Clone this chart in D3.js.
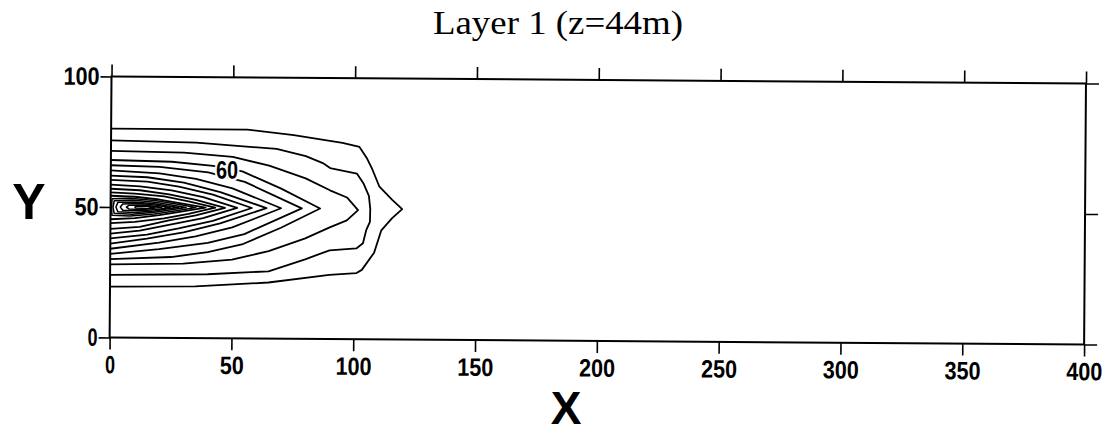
<!DOCTYPE html>
<html>
<head>
<meta charset="utf-8">
<script src="https://cdn.jsdelivr.net/npm/d3@7"></script>
<style>
  body { margin: 0; background: #fff; }
  svg { display: block; }
  .tick text {
    font-family: "Liberation Sans", Arial, sans-serif;
    font-weight: bold;
    font-size: 25px;
    fill: #000;
  }
  .tick line { stroke: #000; stroke-width: 1.6; }
</style>
</head>
<body>
<svg id="chart" width="1115" height="435"></svg>
<script>
// Axis ticks
const xTicks = [0, 50, 100, 150, 200, 250, 300, 350, 400];
const yTicks = [0, 50, 100];
const xDomain = [0, 400];
const yDomain = [0, 100];

// Concentration isolines that start at the source boundary (x = 0), as [x, y] points
const openContours = [
  [[0,80],[56,80],[75,78],[95,75.2],[102,73.7],[105,69.5],[107.4,65],[110.3,58.5],[115.6,53.5],[119.7,50],
   [115.6,46.5],[111.2,41.8],[108.3,33.2],[103.3,26.6],[101,25.3],[90,24.6],[65,21.5],[35,19.8],[0,19.5]],
  [[0,75.5],[35,74.9],[68,72.7],[80,70],[87,67.4],[90,65.5],[101,63.5],[103.7,59.8],[106,55],[106.6,50],
   [106.5,45],[105,41.8],[103.7,36.8],[101,34.8],[90,34],[80,30.5],[65,25.8],[40,24.5],[0,24]],
  [[0,71.5],[30,71],[50,69.5],[65,66.3],[80,61.5],[90,57],[97,54.3],[101.6,49.5],
   [97,45.5],[90,42.8],[80,38.5],[65,33.5],[50,30.2],[30,28.5],[0,28]],
  [[0,68],[25,67.5],[42,66],[54,64],[70,57.5],[86,50],[70,42.5],[54,36],[40,33],[25,31],[0,30]],
  [[0,66],[20,65.5],[40,63.5],[55,60],[78.5,50],[55,40],[40,36.5],[20,34],[0,32]],
  [[0,64],[20,63],[35,61],[50,57.5],[70,50],[50,42.5],[35,39],[20,36.5],[0,34]],
  [[0,62],[15,61.5],[30,59.5],[45,56],[64,50],[45,44],[30,40.5],[15,38],[0,36]],
  [[0,60.4],[15,59.8],[28,58],[42,55],[58,50],[42,45],[28,42],[15,39.5],[0,38]],
  [[0,58.6],[12,58],[25,56.5],[38,54],[52,50],[38,46],[25,43.5],[12,41],[0,39.8]],
  [[0,57],[12,56.5],[24,55],[35,53],[47,50],[35,47],[24,45],[12,42.5],[0,41.6]],
  [[0,55.6],[10,55.2],[22,54.2],[32,52.4],[43,50],[32,47.6],[22,45.8],[10,44.4],[0,43.8]],
  [[0,54.3],[10,54],[20,53],[29,51.6],[39,50],[29,48.4],[20,47],[10,45.8],[0,45.3]]
];

// Closed isolines around the concentration peak near the source
const closedContours = [
  [[0.6,53.2],[8,53.4],[18,52.6],[27,51.3],[35,50],[27,48.7],[18,47.4],[8,46.6],[0.6,46.8],[0.4,50]],
  [[1.5,52.4],[9,52.7],[18,51.9],[25,50.9],[31,50],[25,49.1],[18,48.1],[9,47.3],[1.5,47.6],[1,50]],
  [[3,51.8],[10,52],[18,51.4],[23,50.6],[28,50],[23,49.4],[18,48.6],[10,48],[3,48.2],[2.2,50]],
  [[5,51.2],[12,51.4],[19,50.8],[24.5,50],[19,49.2],[12,48.6],[5,48.8],[4,50]],
  [[7.5,50.7],[13.5,50.9],[21,50],[13.5,49.1],[7.5,49.3],[6.5,50]],
  [[10.5,50.35],[15,50.45],[18,50],[15,49.55],[10.5,49.65],[10,50]]
];

// Isoline label
const contourLabels = [{ text: "60", x: 47.7, y: 64.7 }];

const svg = d3.select("#chart");
const W = 1115, H = 435;
const plotLeft = 111.5, plotTop = 76.5, plotW = 974.5, plotH = 261;

svg.append("rect").attr("width", W).attr("height", H).attr("fill", "#fff");

// Title
svg.append("text")
  .attr("x", 433).attr("y", 34)
  .attr("textLength", 250).attr("lengthAdjust", "spacingAndGlyphs")
  .attr("font-family", "'Liberation Serif', 'Times New Roman', serif")
  .attr("font-size", 33)
  .attr("fill", "#000")
  .text("Layer 1 (z=44m)");

// Axis titles
svg.append("text")
  .attr("x", 29).attr("y", 219).attr("text-anchor", "middle")
  .attr("font-family", "'Liberation Sans', Arial, sans-serif")
  .attr("font-weight", "bold").attr("font-size", 50)
  .text("Y");
svg.append("text")
  .attr("x", 566).attr("y", 424).attr("text-anchor", "middle")
  .attr("font-family", "'Liberation Sans', Arial, sans-serif")
  .attr("font-weight", "bold").attr("font-size", 46)
  .text("X");

// Plot group (the page is slightly rotated)
const g = svg.append("g")
  .attr("transform", `rotate(0.41, ${plotLeft}, ${plotTop}) translate(${plotLeft},${plotTop})`);

const x = d3.scaleLinear().domain(xDomain).range([0, plotW]);
const y = d3.scaleLinear().domain(yDomain).range([plotH, 0]);

const line = d3.line().x(d => x(d[0])).y(d => y(d[1]));
const closedLine = d3.line().x(d => x(d[0])).y(d => y(d[1])).curve(d3.curveLinearClosed);

const cg = g.append("g").attr("fill", "none").attr("stroke", "#000")
  .attr("stroke-width", 1.8).attr("stroke-linejoin", "round");
cg.selectAll("path.open").data(openContours).join("path").attr("class", "open").attr("d", line);
cg.selectAll("path.closed").data(closedContours).join("path").attr("class", "closed")
  .attr("stroke-width", 1.5).attr("d", closedLine);

// Labels with a white halo to break the isoline
g.selectAll("text.clabel").data(contourLabels).join("text")
  .attr("class", "clabel")
  .attr("x", d => x(d.x)).attr("y", d => y(d.y))
  .attr("dy", "0.36em").attr("text-anchor", "middle")
  .attr("font-family", "'Liberation Sans', Arial, sans-serif")
  .attr("font-weight", "bold").attr("font-size", 25)
  .attr("textLength", 22).attr("lengthAdjust", "spacingAndGlyphs")
  .attr("stroke", "#fff").attr("stroke-width", 5).attr("paint-order", "stroke")
  .attr("fill", "#000")
  .text(d => d.text);

// Axes
const noLabel = () => "";
const bottomAxis = g.append("g").attr("transform", `translate(0,${plotH})`)
  .call(d3.axisBottom(x).tickValues(xTicks).tickSize(12).tickSizeOuter(0).tickPadding(6));
const topAxis = g.append("g")
  .call(d3.axisTop(x).tickValues(xTicks).tickSize(12).tickSizeOuter(0).tickFormat(noLabel));
const leftAxis = g.append("g")
  .call(d3.axisLeft(y).tickValues(yTicks).tickSize(11).tickSizeOuter(0).tickPadding(1));
const rightAxis = g.append("g").attr("transform", `translate(${plotW},0)`)
  .call(d3.axisRight(y).tickValues(yTicks).tickSize(13).tickSizeOuter(0).tickFormat(noLabel));

[bottomAxis, topAxis, leftAxis, rightAxis].forEach(a => a.select(".domain").remove());

// Condensed numerals for the tick labels
[bottomAxis, leftAxis].forEach(a => a.selectAll(".tick text")
  .attr("textLength", d => String(d).length === 1 ? 10 : String(d).length * 12)
  .attr("lengthAdjust", "spacingAndGlyphs"));

// Frame
g.append("rect").attr("x", 0).attr("y", 0).attr("width", plotW).attr("height", plotH)
  .attr("fill", "none").attr("stroke", "#000").attr("stroke-width", 2);
</script>
</body>
</html>
